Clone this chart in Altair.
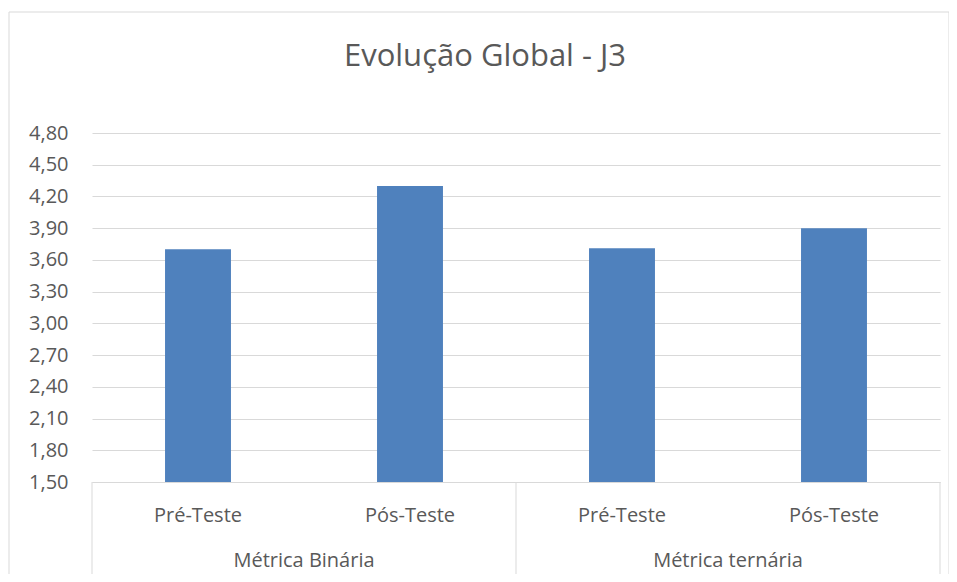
import altair as alt
import pandas as pd

title_text = "Evolução Global - J3"
groups = ["Métrica Binária", "Métrica Binária", "Métrica ternária", "Métrica ternária"]
phases = ["Pré-Teste", "Pós-Teste", "Pré-Teste", "Pós-Teste"]
values = [3.70, 4.30, 3.71, 3.90]
y_ticks = [1.50, 1.80, 2.10, 2.40, 2.70, 3.00, 3.30, 3.60, 3.90, 4.20, 4.50, 4.80]

FONT = "Open Sans"
TXT = "#595959"
GRID = "#d9d9d9"
BAR = "#4F81BD"

keys = [f"{g}|{p}" for g, p in zip(groups, phases)]
df = pd.DataFrame({"key": keys, "group": groups, "phase": phases, "value": values})

W, H = 848, 349

xscale = alt.Scale(domain=keys, paddingInner=0, paddingOuter=0)

bars = alt.Chart(df).mark_bar(color=BAR, width={"band": 0.311}, clip=True).encode(
    x=alt.X("key:N", scale=xscale, sort=keys,
            axis=alt.Axis(labels=False, ticks=False, title=None, domainColor=GRID, grid=False)),
    y=alt.Y("value:Q", scale=alt.Scale(domain=[y_ticks[0], y_ticks[-1]], nice=False, zero=False),
            axis=alt.Axis(values=y_ticks, title=None, domain=False, ticks=False,
                          gridColor=GRID, gridWidth=1,
                          labelExpr="replace(format(datum.value, '.2f'), '.', ',')",
                          labelFont=FONT, labelFontSize=20, labelColor=TXT, labelPadding=24)),
)

phase_labels = alt.Chart(df).mark_text(font=FONT, fontSize=20, color=TXT, baseline="alphabetic").encode(
    x=alt.X("key:N", scale=xscale, sort=keys),
    y=alt.value(H + 40),
    text="phase:N",
)

grp_df = df.drop_duplicates("group")
group_labels = alt.Chart(grp_df).mark_text(font=FONT, fontSize=20, color=TXT, baseline="alphabetic").encode(
    x=alt.X("key:N", scale=xscale, sort=keys, bandPosition=1),
    y=alt.value(H + 85),
    text="group:N",
)

sep_start = alt.Chart(grp_df).mark_rule(color=GRID, strokeWidth=1).encode(
    x=alt.X("key:N", scale=xscale, sort=keys, bandPosition=0),
    y=alt.value(H),
    y2=alt.value(H + 93),
)
sep_end = alt.Chart(df.tail(1)).mark_rule(color=GRID, strokeWidth=1).encode(
    x=alt.X("key:N", scale=xscale, sort=keys, bandPosition=1),
    y=alt.value(H),
    y2=alt.value(H + 93),
)

title_df = pd.DataFrame({"t": [title_text]})
title = alt.Chart(title_df).mark_text(font=FONT, fontSize=31, color=TXT, baseline="alphabetic", align="center").encode(
    x=alt.value(393),
    y=alt.value(-67),
    text="t:N",
)

border = alt.Chart(pd.DataFrame({"b": [1]})).mark_rect(fill="transparent", stroke=GRID, strokeWidth=1).encode(
    x=alt.value(-83),
    x2=alt.value(857),
    y=alt.value(-121),
    y2=alt.value(H + 150),
)

chart = alt.layer(border, bars, sep_start, sep_end, phase_labels, group_labels, title).properties(
    width=W, height=H,
    padding={"left": 84, "top": 125, "right": 9, "bottom": 92},
    autosize=alt.AutoSizeParams(type="none"),
    background="white",
).configure_view(stroke="transparent")

chart.save("out.html", embed_options={"renderer": "svg", "actions": False})
